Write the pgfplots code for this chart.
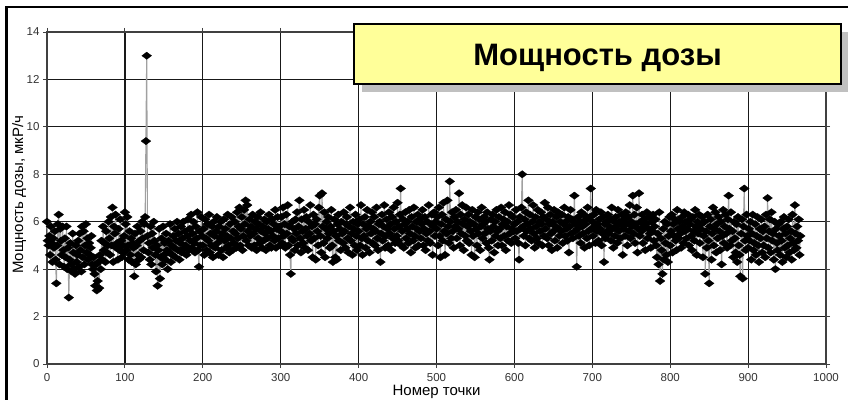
\documentclass[border=0pt]{standalone}
\usepackage{fontspec}
\setmainfont{Liberation Sans}
\usepackage{pgfplots}
\pgfplotsset{compat=1.18}
\usepackage{pgfplotstable}

\definecolor{boxyellow}{RGB}{255,255,153}
\definecolor{shadowgray}{RGB}{192,192,192}
\definecolor{linkgray}{RGB}{160,160,160}

% dose rate readings, one per measurement point (point number = row index)
\pgfplotstableread[row sep=\\]{
dose\\
6.0\\ 5.2\\ 5.0\\ 5.4\\ 4.6\\ 5.8\\ 5.1\\ 4.3\\ 5.3\\ 4.9\\ 5.6\\ 4.4\\ 3.4\\ 5.0\\ 5.9\\ 6.3\\ 4.2\\ 5.7\\ 5.2\\ 4.6\\
5.8\\ 4.8\\ 4.1\\ 5.3\\ 4.5\\ 5.8\\ 4.0\\ 4.9\\ 2.8\\ 4.4\\ 5.1\\ 4.2\\ 3.9\\ 5.5\\ 4.7\\ 4.0\\ 3.8\\ 5.0\\ 4.3\\ 4.6\\
5.2\\ 4.1\\ 5.5\\ 4.8\\ 3.9\\ 5.8\\ 4.5\\ 5.6\\ 4.2\\ 5.0\\ 5.9\\ 4.7\\ 5.3\\ 4.4\\ 5.1\\ 4.6\\ 4.9\\ 5.4\\ 4.2\\ 4.0\\
4.5\\ 3.8\\ 3.3\\ 4.2\\ 3.1\\ 3.5\\ 4.3\\ 3.2\\ 4.6\\ 4.0\\ 5.2\\ 4.4\\ 5.8\\ 4.8\\ 5.1\\ 4.3\\ 5.6\\ 4.7\\ 5.0\\ 6.0\\
5.3\\ 4.6\\ 6.2\\ 5.0\\ 6.6\\ 4.3\\ 5.8\\ 5.5\\ 6.3\\ 4.9\\ 5.1\\ 4.4\\ 5.7\\ 4.8\\ 6.1\\ 5.2\\ 4.5\\ 5.0\\ 4.7\\ 5.4\\
6.4\\ 5.9\\ 4.8\\ 6.2\\ 5.0\\ 4.4\\ 5.6\\ 4.6\\ 5.3\\ 4.3\\ 5.1\\ 4.9\\ 3.7\\ 5.5\\ 4.2\\ 5.0\\ 5.8\\ 4.6\\ 4.4\\ 5.2\\
5.6\\ 4.5\\ 6.0\\ 5.3\\ 4.8\\ 5.9\\ 6.2\\ 9.4\\ 13.0\\ 5.4\\ 4.7\\ 5.1\\ 4.4\\ 5.8\\ 4.2\\ 5.5\\ 4.9\\ 6.0\\ 5.2\\ 4.6\\
3.9\\ 5.0\\ 3.3\\ 4.8\\ 5.7\\ 3.6\\ 4.5\\ 5.3\\ 4.2\\ 5.8\\ 4.6\\ 5.1\\ 4.4\\ 5.5\\ 4.8\\ 4.0\\ 5.2\\ 4.7\\ 5.9\\ 4.3\\
5.0\\ 4.6\\ 5.4\\ 4.9\\ 5.7\\ 4.5\\ 5.2\\ 6.0\\ 4.8\\ 5.5\\ 4.4\\ 5.1\\ 5.8\\ 4.7\\ 5.3\\ 6.0\\ 4.9\\ 5.6\\ 5.0\\ 4.6\\
5.4\\ 6.1\\ 4.8\\ 5.7\\ 5.2\\ 6.3\\ 4.9\\ 5.5\\ 6.0\\ 5.1\\ 4.7\\ 5.8\\ 5.3\\ 6.4\\ 4.8\\ 4.1\\ 5.6\\ 5.0\\ 6.2\\ 5.4\\
5.0\\ 5.7\\ 4.6\\ 6.1\\ 5.3\\ 4.8\\ 5.9\\ 5.2\\ 6.3\\ 4.7\\ 5.5\\ 5.0\\ 5.8\\ 4.5\\ 6.0\\ 5.4\\ 4.9\\ 5.6\\ 6.2\\ 5.1\\
4.6\\ 5.8\\ 5.3\\ 6.0\\ 4.8\\ 5.5\\ 4.5\\ 6.1\\ 5.2\\ 5.7\\ 4.9\\ 5.4\\ 6.3\\ 5.0\\ 4.7\\ 5.9\\ 5.3\\ 6.2\\ 4.8\\ 5.6\\
5.1\\ 6.0\\ 5.5\\ 4.9\\ 6.4\\ 5.3\\ 5.8\\ 6.6\\ 5.0\\ 5.7\\ 6.2\\ 4.8\\ 5.4\\ 6.5\\ 5.9\\ 6.9\\ 5.2\\ 6.7\\ 5.6\\ 5.0\\
6.1\\ 5.4\\ 5.8\\ 4.9\\ 6.3\\ 5.5\\ 5.0\\ 6.0\\ 5.7\\ 4.8\\ 6.2\\ 5.3\\ 5.9\\ 5.1\\ 6.4\\ 5.6\\ 4.9\\ 5.8\\ 5.2\\ 6.1\\
5.5\\ 4.8\\ 6.0\\ 5.3\\ 5.7\\ 6.3\\ 5.0\\ 5.6\\ 4.9\\ 6.1\\ 5.4\\ 5.9\\ 5.2\\ 6.5\\ 4.9\\ 5.7\\ 6.2\\ 5.3\\ 5.8\\ 5.0\\
5.6\\ 6.2\\ 5.1\\ 6.6\\ 5.4\\ 5.9\\ 4.9\\ 6.3\\ 5.5\\ 6.7\\ 5.0\\ 5.8\\ 4.6\\ 3.8\\ 5.3\\ 6.0\\ 5.2\\ 5.7\\ 4.8\\ 6.1\\
5.5\\ 6.4\\ 5.0\\ 5.8\\ 6.9\\ 5.3\\ 4.7\\ 6.1\\ 5.6\\ 5.1\\ 6.5\\ 4.9\\ 5.7\\ 6.2\\ 5.4\\ 4.8\\ 6.0\\ 5.5\\ 6.7\\ 5.2\\
5.8\\ 4.5\\ 6.3\\ 5.3\\ 5.9\\ 4.4\\ 6.1\\ 5.6\\ 5.0\\ 6.6\\ 7.1\\ 5.4\\ 4.7\\ 7.2\\ 5.8\\ 5.1\\ 6.4\\ 4.5\\ 5.7\\ 6.0\\
5.3\\ 6.2\\ 5.5\\ 4.9\\ 5.8\\ 6.5\\ 5.0\\ 4.3\\ 5.6\\ 6.1\\ 4.5\\ 5.4\\ 4.4\\ 5.9\\ 6.3\\ 5.2\\ 5.7\\ 4.8\\ 6.0\\ 5.5\\
5.1\\ 6.4\\ 5.6\\ 4.9\\ 5.9\\ 6.2\\ 5.3\\ 4.7\\ 5.8\\ 6.6\\ 5.2\\ 5.5\\ 4.6\\ 6.0\\ 5.7\\ 5.0\\ 6.3\\ 5.4\\ 4.8\\ 5.9\\
5.6\\ 6.1\\ 5.0\\ 6.7\\ 5.3\\ 4.6\\ 5.9\\ 5.4\\ 6.2\\ 4.9\\ 5.7\\ 6.5\\ 5.2\\ 5.8\\ 4.7\\ 6.0\\ 5.5\\ 6.4\\ 5.1\\ 5.7\\
6.2\\ 5.0\\ 5.6\\ 6.6\\ 5.3\\ 4.8\\ 5.9\\ 6.0\\ 4.3\\ 5.5\\ 6.3\\ 5.2\\ 5.8\\ 6.7\\ 4.9\\ 5.4\\ 6.1\\ 5.7\\ 5.0\\ 6.4\\
5.5\\ 5.9\\ 4.8\\ 6.2\\ 5.3\\ 6.6\\ 5.7\\ 5.1\\ 6.0\\ 5.4\\ 6.8\\ 5.2\\ 5.8\\ 6.3\\ 7.4\\ 5.0\\ 5.6\\ 6.1\\ 4.9\\ 5.9\\
6.4\\ 5.3\\ 5.7\\ 6.0\\ 5.1\\ 6.5\\ 5.5\\ 4.7\\ 6.2\\ 5.8\\ 5.2\\ 6.6\\ 5.4\\ 4.9\\ 6.0\\ 5.7\\ 6.3\\ 5.0\\ 5.6\\ 6.1\\
5.3\\ 5.9\\ 6.5\\ 5.0\\ 5.7\\ 6.2\\ 4.8\\ 5.5\\ 6.0\\ 5.2\\ 6.7\\ 5.6\\ 5.1\\ 5.9\\ 6.3\\ 4.6\\ 5.8\\ 6.4\\ 5.4\\ 6.0\\
5.7\\ 6.2\\ 5.0\\ 6.6\\ 5.4\\ 4.5\\ 5.9\\ 6.3\\ 5.2\\ 6.8\\ 5.6\\ 4.6\\ 6.1\\ 5.5\\ 6.9\\ 5.8\\ 5.1\\ 7.7\\ 6.0\\ 5.3\\
6.4\\ 5.6\\ 4.9\\ 6.2\\ 5.8\\ 6.5\\ 5.3\\ 6.0\\ 5.7\\ 7.2\\ 5.0\\ 6.3\\ 5.5\\ 6.7\\ 5.9\\ 4.8\\ 6.1\\ 5.4\\ 6.6\\ 5.2\\
5.8\\ 6.3\\ 5.1\\ 6.0\\ 5.6\\ 4.6\\ 6.5\\ 5.4\\ 5.9\\ 4.5\\ 6.2\\ 5.7\\ 5.0\\ 6.4\\ 5.5\\ 6.1\\ 4.8\\ 5.8\\ 6.6\\ 5.3\\
5.9\\ 6.2\\ 5.5\\ 6.0\\ 5.1\\ 6.4\\ 5.7\\ 4.9\\ 4.4\\ 5.6\\ 6.1\\ 5.2\\ 6.3\\ 5.8\\ 4.7\\ 6.0\\ 5.4\\ 6.5\\ 5.6\\ 5.0\\
6.2\\ 5.7\\ 5.3\\ 6.6\\ 5.0\\ 5.9\\ 6.1\\ 5.4\\ 6.4\\ 4.8\\ 5.8\\ 6.0\\ 5.2\\ 6.7\\ 5.5\\ 6.3\\ 5.1\\ 5.7\\ 6.2\\ 5.6\\
5.9\\ 5.3\\ 6.5\\ 5.6\\ 6.0\\ 5.1\\ 4.4\\ 6.2\\ 5.7\\ 6.6\\ 8.0\\ 5.8\\ 5.4\\ 6.1\\ 5.0\\ 6.4\\ 5.6\\ 5.9\\ 6.9\\ 5.3\\
6.3\\ 5.7\\ 5.2\\ 6.0\\ 6.7\\ 5.5\\ 4.9\\ 6.2\\ 5.8\\ 5.3\\ 6.5\\ 5.1\\ 6.0\\ 5.6\\ 6.4\\ 5.9\\ 5.0\\ 6.2\\ 5.4\\ 6.8\\
5.7\\ 6.1\\ 5.3\\ 6.6\\ 5.0\\ 5.9\\ 6.3\\ 5.5\\ 4.8\\ 6.0\\ 5.6\\ 6.5\\ 5.2\\ 5.8\\ 6.2\\ 4.9\\ 6.4\\ 5.7\\ 5.4\\ 6.0\\
5.6\\ 6.3\\ 5.1\\ 5.9\\ 6.6\\ 5.4\\ 6.0\\ 5.7\\ 5.2\\ 6.2\\ 4.7\\ 5.8\\ 6.5\\ 5.5\\ 6.1\\ 5.3\\ 6.0\\ 7.1\\ 5.6\\ 5.9\\
4.1\\ 5.7\\ 6.2\\ 5.4\\ 6.0\\ 5.1\\ 6.4\\ 5.8\\ 5.5\\ 6.3\\ 4.9\\ 5.9\\ 6.1\\ 5.3\\ 6.6\\ 5.6\\ 5.0\\ 6.2\\ 7.4\\ 5.7\\
6.0\\ 5.4\\ 6.3\\ 5.8\\ 5.1\\ 6.5\\ 5.6\\ 5.9\\ 5.2\\ 6.1\\ 5.7\\ 6.4\\ 5.0\\ 5.5\\ 6.2\\ 4.3\\ 5.9\\ 5.3\\ 6.0\\ 5.6\\
6.3\\ 5.5\\ 5.8\\ 6.1\\ 5.2\\ 6.6\\ 5.7\\ 4.9\\ 6.0\\ 5.4\\ 6.2\\ 5.8\\ 5.1\\ 6.5\\ 5.6\\ 6.0\\ 5.3\\ 5.9\\ 6.3\\ 4.6\\
5.7\\ 6.1\\ 5.4\\ 6.4\\ 5.9\\ 5.0\\ 6.2\\ 5.6\\ 6.7\\ 5.3\\ 6.0\\ 5.8\\ 7.1\\ 5.5\\ 6.3\\ 5.1\\ 5.9\\ 6.6\\ 4.7\\ 5.7\\
7.2\\ 5.4\\ 6.0\\ 5.6\\ 6.3\\ 5.1\\ 5.8\\ 6.1\\ 4.8\\ 5.9\\ 6.4\\ 5.3\\ 5.7\\ 6.2\\ 5.5\\ 4.9\\ 6.0\\ 5.6\\ 6.3\\ 5.2\\
5.8\\ 6.1\\ 5.0\\ 4.5\\ 5.5\\ 4.2\\ 6.4\\ 3.5\\ 5.3\\ 4.8\\ 3.8\\ 5.7\\ 4.4\\ 6.0\\ 5.1\\ 4.6\\ 5.9\\ 4.3\\ 5.4\\ 6.2\\
5.0\\ 5.6\\ 6.3\\ 4.7\\ 5.9\\ 5.4\\ 6.1\\ 5.2\\ 4.8\\ 6.5\\ 5.7\\ 5.3\\ 6.0\\ 5.5\\ 4.9\\ 6.2\\ 5.8\\ 5.1\\ 6.4\\ 5.6\\
6.0\\ 5.3\\ 5.7\\ 6.3\\ 5.0\\ 5.9\\ 6.1\\ 5.4\\ 4.8\\ 6.2\\ 5.6\\ 5.2\\ 6.5\\ 5.8\\ 4.6\\ 6.0\\ 5.5\\ 6.3\\ 5.1\\ 5.7\\
5.9\\ 6.2\\ 4.5\\ 5.4\\ 6.0\\ 3.8\\ 5.6\\ 4.9\\ 6.3\\ 5.2\\ 3.4\\ 5.8\\ 6.1\\ 4.4\\ 5.5\\ 6.6\\ 5.0\\ 5.7\\ 6.4\\ 4.7\\
5.9\\ 5.3\\ 6.2\\ 5.6\\ 4.8\\ 6.0\\ 4.2\\ 5.4\\ 6.5\\ 5.1\\ 5.8\\ 6.3\\ 5.5\\ 4.9\\ 6.1\\ 7.1\\ 5.7\\ 5.0\\ 6.4\\ 5.2\\
5.6\\ 4.5\\ 6.0\\ 5.3\\ 4.7\\ 5.9\\ 4.3\\ 6.2\\ 5.0\\ 4.6\\ 3.7\\ 5.5\\ 6.1\\ 3.6\\ 5.8\\ 7.4\\ 5.2\\ 4.8\\ 6.3\\ 5.4\\
4.9\\ 5.7\\ 5.2\\ 6.0\\ 4.4\\ 5.5\\ 6.3\\ 4.8\\ 5.1\\ 5.9\\ 4.6\\ 5.4\\ 6.2\\ 5.0\\ 4.3\\ 5.7\\ 5.3\\ 6.1\\ 4.7\\ 5.6\\
5.0\\ 5.8\\ 4.5\\ 6.3\\ 5.3\\ 7.0\\ 4.9\\ 5.6\\ 6.1\\ 4.7\\ 6.4\\ 5.2\\ 5.5\\ 4.4\\ 6.0\\ 4.0\\ 5.7\\ 5.1\\ 4.8\\ 5.9\\
5.4\\ 4.6\\ 6.0\\ 5.2\\ 4.3\\ 5.7\\ 6.2\\ 4.9\\ 5.5\\ 4.5\\ 5.8\\ 5.0\\ 6.1\\ 4.7\\ 5.3\\ 5.6\\ 4.4\\ 6.3\\ 5.1\\ 4.8\\
6.7\\ 5.5\\ 4.9\\ 5.8\\ 5.2\\ 6.1\\ 4.6\\ 5.4\\
}\dosedata

\begin{document}
\begin{tikzpicture}[x=1pt,y=1pt]
\useasboundingbox (0,0) rectangle (848,399);

\begin{axis}[
  at={(47pt,35pt)}, anchor=south west,
  scale only axis, width=779pt, height=332pt,
  xmin=0, xmax=1000, ymin=0, ymax=14,
  xtick distance=100, ytick distance=2,
  grid=major,
  major grid style={black!90, line width=1.2pt},
  axis line style={black!75, line width=1.1pt},
  tick style={black!75, line width=0.9pt},
  tick align=outside, major tick length=4pt,
  /pgf/number format/assume math mode=true,
  /pgf/number format/set thousands separator={},
  ticklabel style={font=\fontsize{11.5}{13}\selectfont, text=black!80},
  xticklabel style={yshift=-2pt},
  xlabel={Номер точки},
  ylabel={Мощность дозы, мкР/ч},
  label style={font=\fontsize{15}{17}\selectfont},
  xlabel style={at={(axis description cs:0.5,-0.0934)}, anchor=base},
  ylabel style={at={(axis description cs:-0.0308,0.51)}, anchor=base},
  clip=false,
]
\addplot[color=linkgray, line width=1.1pt,
  mark=diamond*, mark size=4.9pt,
  mark options={solid, fill=black, draw=black, line width=0.3pt, rotate=90}]
  table[x expr=\coordindex, y=dose] {\dosedata};
\end{axis}

% title box with drop shadow
\fill[shadowgray] (362,307) rectangle (850,367);
\filldraw[fill=boxyellow, draw=black, line width=2.5pt] (354,315) rectangle (841,375);
\node[anchor=base, inner sep=0pt, font=\fontsize{31}{36}\selectfont\bfseries]
  at (597.5,333) {Мощность дозы};

% outer frame
\draw[black, line width=2.4pt] (6.5,-2) -- (6.5,392) -- (850,392);
\end{tikzpicture}
\end{document}
